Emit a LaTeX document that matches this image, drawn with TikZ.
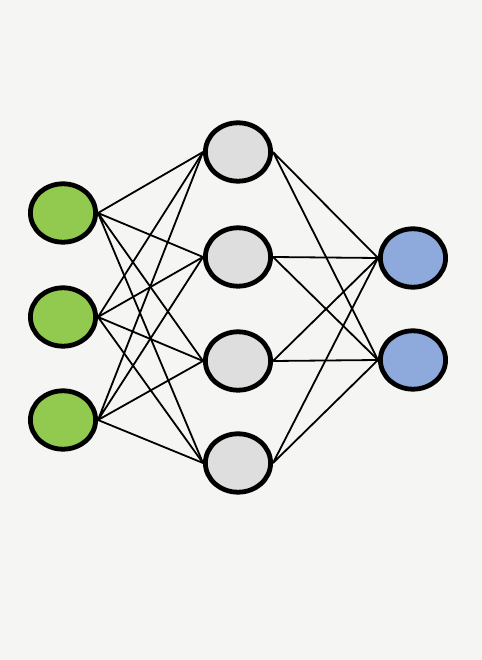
\documentclass[tikz,border=0pt]{standalone}
\usetikzlibrary{shapes.geometric}
\definecolor{bg}{HTML}{F5F5F3}
\definecolor{stroke}{HTML}{000000}
\definecolor{inp}{HTML}{92C94F}
\definecolor{hid}{HTML}{DEDEDE}
\definecolor{outp}{HTML}{8EA9DB}
\begin{document}
\begin{tikzpicture}[
  unit/.style={ellipse, draw=stroke, line width=0.12cm, minimum width=1.63cm, minimum height=1.46cm, inner sep=0pt},
  inu/.style={unit, fill=inp},
  hidu/.style={unit, fill=hid},
  outu/.style={unit, fill=outp},
  link/.style={draw=stroke, line width=0.045cm},
]
% page
\fill[bg] (0,0) rectangle (12.05,16.5);
\useasboundingbox (0,0) rectangle (12.05,16.5);
% input layer
\node[inu] (in1) at (1.575,11.175) {};
\node[inu] (in2) at (1.575,8.575) {};
\node[inu] (in3) at (1.575,6.0) {};
% hidden layer
\node[hidu] (hid1) at (5.95,12.7) {};
\node[hidu] (hid2) at (5.95,10.075) {};
\node[hidu] (hid3) at (5.95,7.475) {};
\node[hidu] (hid4) at (5.95,4.925) {};
% output layer
\node[outu] (out1) at (10.325,10.05) {};
\node[outu] (out2) at (10.325,7.5) {};
% input -> hidden
\draw[link] (in1.east) -- (hid1.west) (in1.east) -- (hid2.west) (in1.east) -- (hid3.west) (in1.east) -- (hid4.west);
\draw[link] (in2.east) -- (hid1.west) (in2.east) -- (hid2.west) (in2.east) -- (hid3.west) (in2.east) -- (hid4.west);
\draw[link] (in3.east) -- (hid1.west) (in3.east) -- (hid2.west) (in3.east) -- (hid3.west) (in3.east) -- (hid4.west);
% hidden -> output
\draw[link] (hid1.east) -- (out1.west) (hid1.east) -- (out2.west);
\draw[link] (hid2.east) -- (out1.west) (hid2.east) -- (out2.west);
\draw[link] (hid3.east) -- (out1.west) (hid3.east) -- (out2.west);
\draw[link] (hid4.east) -- (out1.west) (hid4.east) -- (out2.west);
\end{tikzpicture}
\end{document}
